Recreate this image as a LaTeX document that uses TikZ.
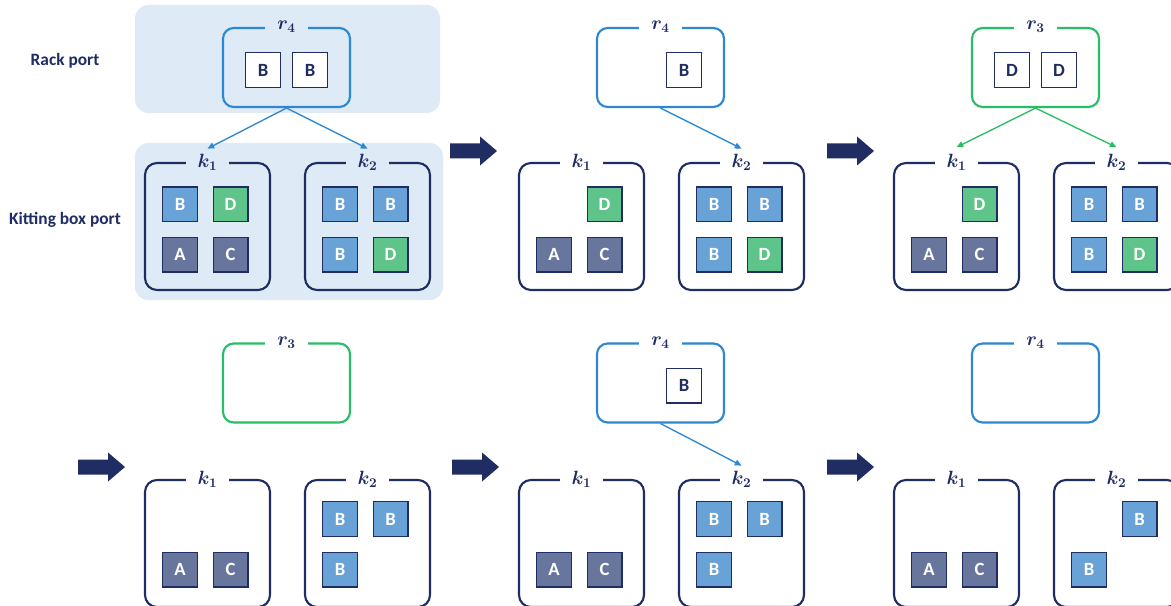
\documentclass[tikz,border=0pt]{standalone}
\usepackage{fontspec}
\setmainfont{Carlito}
\usepackage{tikz}
\usetikzlibrary{arrows.meta,positioning}

\definecolor{navy}{RGB}{31,45,99}
\definecolor{rackblue}{RGB}{45,135,210}
\definecolor{rackgreen}{RGB}{40,190,100}
\definecolor{partB}{RGB}{105,162,214}
\definecolor{partD}{RGB}{95,196,138}
\definecolor{partAC}{RGB}{104,118,158}
\definecolor{portbg}{RGB}{222,234,246}

\tikzset{
    kitbox/.style={draw=navy, line width=1.6pt, rounded corners=9pt,
        minimum width=93.75pt, minimum height=95.25pt},
    rackbox/.style={draw=#1, line width=1.6pt, rounded corners=8pt,
        minimum width=95.25pt, minimum height=59.25pt},
    boxlabel/.style={fill=#1, inner sep=1pt, minimum width=32pt, text=navy,
        font=\fontsize{14}{14}\selectfont\boldmath},
    boxlabel/.default=white,
    part/.style={draw=navy, line width=1pt, minimum size=26pt, inner sep=0pt,
        fill=#1, text=white, font=\fontsize{14}{14}\selectfont\bfseries},
    rackpart/.style={part=white, text=navy},
    feed/.style={draw=#1, line width=1pt, -{Triangle[length=5pt,width=4.5pt]}},
    portname/.style={text=navy, font=\fontsize{13}{13}\selectfont\bfseries},
    bigarrow/.pic={
        \fill[navy] (0,-7.5) -- (30,-7.5) -- (30,-14.5) -- (47,0)
            -- (30,14.5) -- (30,7.5) -- (0,7.5) -- cycle;
    }
}

\begin{document}
\begin{tikzpicture}[x=0.75pt, y=-0.75pt]
    \clip (0,0) rectangle (1171,606);
    \fill[white] (0,0) rectangle (1171,606);

    % panel 1
    \fill[portbg, rounded corners=10pt] (135,5) rectangle (440,113);
    \fill[portbg, rounded corners=10pt] (135,143) rectangle (443,300);
    \node[portname] (rackname) at (65,61) {Rack port};
    \node[portname] (kitname) at (65,220) {Kitting box port};

    \node[rackbox=rackblue] (p1r) at (286.5,67.5) {};
    \node[boxlabel=portbg] (p1rl) at (p1r.north) {$r_4$};
    \node[rackpart] (p1ra) at (263,70) {B};
    \node[rackpart] (p1rb) at (310,70) {B};

    \node[kitbox] (p1k1) at (207.5,226.5) {};
    \node[boxlabel=portbg] (p1k1l) at (p1k1.north) {$k_1$};
    \node[part=partB] (p1k1a) at (180,204.5) {B};
    \node[part=partD] (p1k1b) at (230.5,204.5) {D};
    \node[part=partAC] (p1k1c) at (180,254.5) {A};
    \node[part=partAC] (p1k1d) at (230.5,254.5) {C};

    \node[kitbox] (p1k2) at (367.5,226.5) {};
    \node[boxlabel=portbg] (p1k2l) at (p1k2.north) {$k_2$};
    \node[part=partB] (p1k2a) at (340,204.5) {B};
    \node[part=partB] (p1k2b) at (390.5,204.5) {B};
    \node[part=partB] (p1k2c) at (340,254.5) {B};
    \node[part=partD] (p1k2d) at (390.5,254.5) {D};

    \draw[feed=rackblue] (p1r.south) -- ([yshift=10pt]p1k1.north);
    \draw[feed=rackblue] (p1r.south) -- ([yshift=10pt]p1k2.north);

    % panel 2
    \begin{scope}[shift={(374,0)}]
        \pic at (76,151) {bigarrow};
        \node[rackbox=rackblue] (p2r) at (286.5,67.5) {};
        \node[boxlabel] (p2rl) at (p2r.north) {$r_4$};
        \node[rackpart] (p2rb) at (310,70) {B};

        \node[kitbox] (p2k1) at (207.5,226.5) {};
        \node[boxlabel] (p2k1l) at (p2k1.north) {$k_1$};
        \node[part=partD] (p2k1b) at (230.5,204.5) {D};
        \node[part=partAC] (p2k1c) at (180,254.5) {A};
        \node[part=partAC] (p2k1d) at (230.5,254.5) {C};

        \node[kitbox] (p2k2) at (367.5,226.5) {};
        \node[boxlabel] (p2k2l) at (p2k2.north) {$k_2$};
        \node[part=partB] (p2k2a) at (340,204.5) {B};
        \node[part=partB] (p2k2b) at (390.5,204.5) {B};
        \node[part=partB] (p2k2c) at (340,254.5) {B};
        \node[part=partD] (p2k2d) at (390.5,254.5) {D};

        \draw[feed=rackblue] (p2r.south) -- ([yshift=10pt]p2k2.north);
    \end{scope}

    % panel 3
    \begin{scope}[shift={(749,0)}]
        \pic at (78,151) {bigarrow};
        \node[rackbox=rackgreen] (p3r) at (286.5,67.5) {};
        \node[boxlabel] (p3rl) at (p3r.north) {$r_3$};
        \node[rackpart] (p3ra) at (263,70) {D};
        \node[rackpart] (p3rb) at (310,70) {D};

        \node[kitbox] (p3k1) at (207.5,226.5) {};
        \node[boxlabel] (p3k1l) at (p3k1.north) {$k_1$};
        \node[part=partD] (p3k1b) at (230.5,204.5) {D};
        \node[part=partAC] (p3k1c) at (180,254.5) {A};
        \node[part=partAC] (p3k1d) at (230.5,254.5) {C};

        \node[kitbox] (p3k2) at (367.5,226.5) {};
        \node[boxlabel] (p3k2l) at (p3k2.north) {$k_2$};
        \node[part=partB] (p3k2a) at (340,204.5) {B};
        \node[part=partB] (p3k2b) at (390.5,204.5) {B};
        \node[part=partB] (p3k2c) at (340,254.5) {B};
        \node[part=partD] (p3k2d) at (390.5,254.5) {D};

        \draw[feed=rackgreen] (p3r.south) -- ([yshift=11pt]p3k1.north);
        \draw[feed=rackgreen] (p3r.south) -- ([yshift=11pt]p3k2.north);
    \end{scope}

    % panel 4
    \begin{scope}[shift={(0,317)}]
        \pic at (78,150) {bigarrow};
        \node[rackbox=rackgreen] (p4r) at (286.5,66) {};
        \node[boxlabel] (p4rl) at (p4r.north) {$r_3$};

        \node[kitbox] (p4k1) at (207.5,226.5) {};
        \node[boxlabel] (p4k1l) at (p4k1.north) {$k_1$};
        \node[part=partAC] (p4k1c) at (180,252.5) {A};
        \node[part=partAC] (p4k1d) at (230.5,252.5) {C};

        \node[kitbox] (p4k2) at (367.5,226.5) {};
        \node[boxlabel] (p4k2l) at (p4k2.north) {$k_2$};
        \node[part=partB] (p4k2a) at (340,202) {B};
        \node[part=partB] (p4k2b) at (390.5,202) {B};
        \node[part=partB] (p4k2c) at (340,252.5) {B};
    \end{scope}

    % panel 5
    \begin{scope}[shift={(374,317)}]
        \pic at (78,150) {bigarrow};
        \node[rackbox=rackblue] (p5r) at (286.5,66) {};
        \node[boxlabel] (p5rl) at (p5r.north) {$r_4$};
        \node[rackpart] (p5rb) at (310,68.5) {B};

        \node[kitbox] (p5k1) at (207.5,226.5) {};
        \node[boxlabel] (p5k1l) at (p5k1.north) {$k_1$};
        \node[part=partAC] (p5k1c) at (180,252.5) {A};
        \node[part=partAC] (p5k1d) at (230.5,252.5) {C};

        \node[kitbox] (p5k2) at (367.5,226.5) {};
        \node[boxlabel] (p5k2l) at (p5k2.north) {$k_2$};
        \node[part=partB] (p5k2a) at (340,202) {B};
        \node[part=partB] (p5k2b) at (390.5,202) {B};
        \node[part=partB] (p5k2c) at (340,252.5) {B};

        \draw[feed=rackblue] (p5r.south) -- ([yshift=10pt]p5k2.north);
    \end{scope}

    % panel 6
    \begin{scope}[shift={(749,317)}]
        \pic at (78,150) {bigarrow};
        \node[rackbox=rackblue] (p6r) at (286.5,66) {};
        \node[boxlabel] (p6rl) at (p6r.north) {$r_4$};

        \node[kitbox] (p6k1) at (207.5,226.5) {};
        \node[boxlabel] (p6k1l) at (p6k1.north) {$k_1$};
        \node[part=partAC] (p6k1c) at (180,252.5) {A};
        \node[part=partAC] (p6k1d) at (230.5,252.5) {C};

        \node[kitbox] (p6k2) at (367.5,226.5) {};
        \node[boxlabel] (p6k2l) at (p6k2.north) {$k_2$};
        \node[part=partB] (p6k2b) at (390.5,202) {B};
        \node[part=partB] (p6k2c) at (340,252.5) {B};
    \end{scope}
\end{tikzpicture}
\end{document}
